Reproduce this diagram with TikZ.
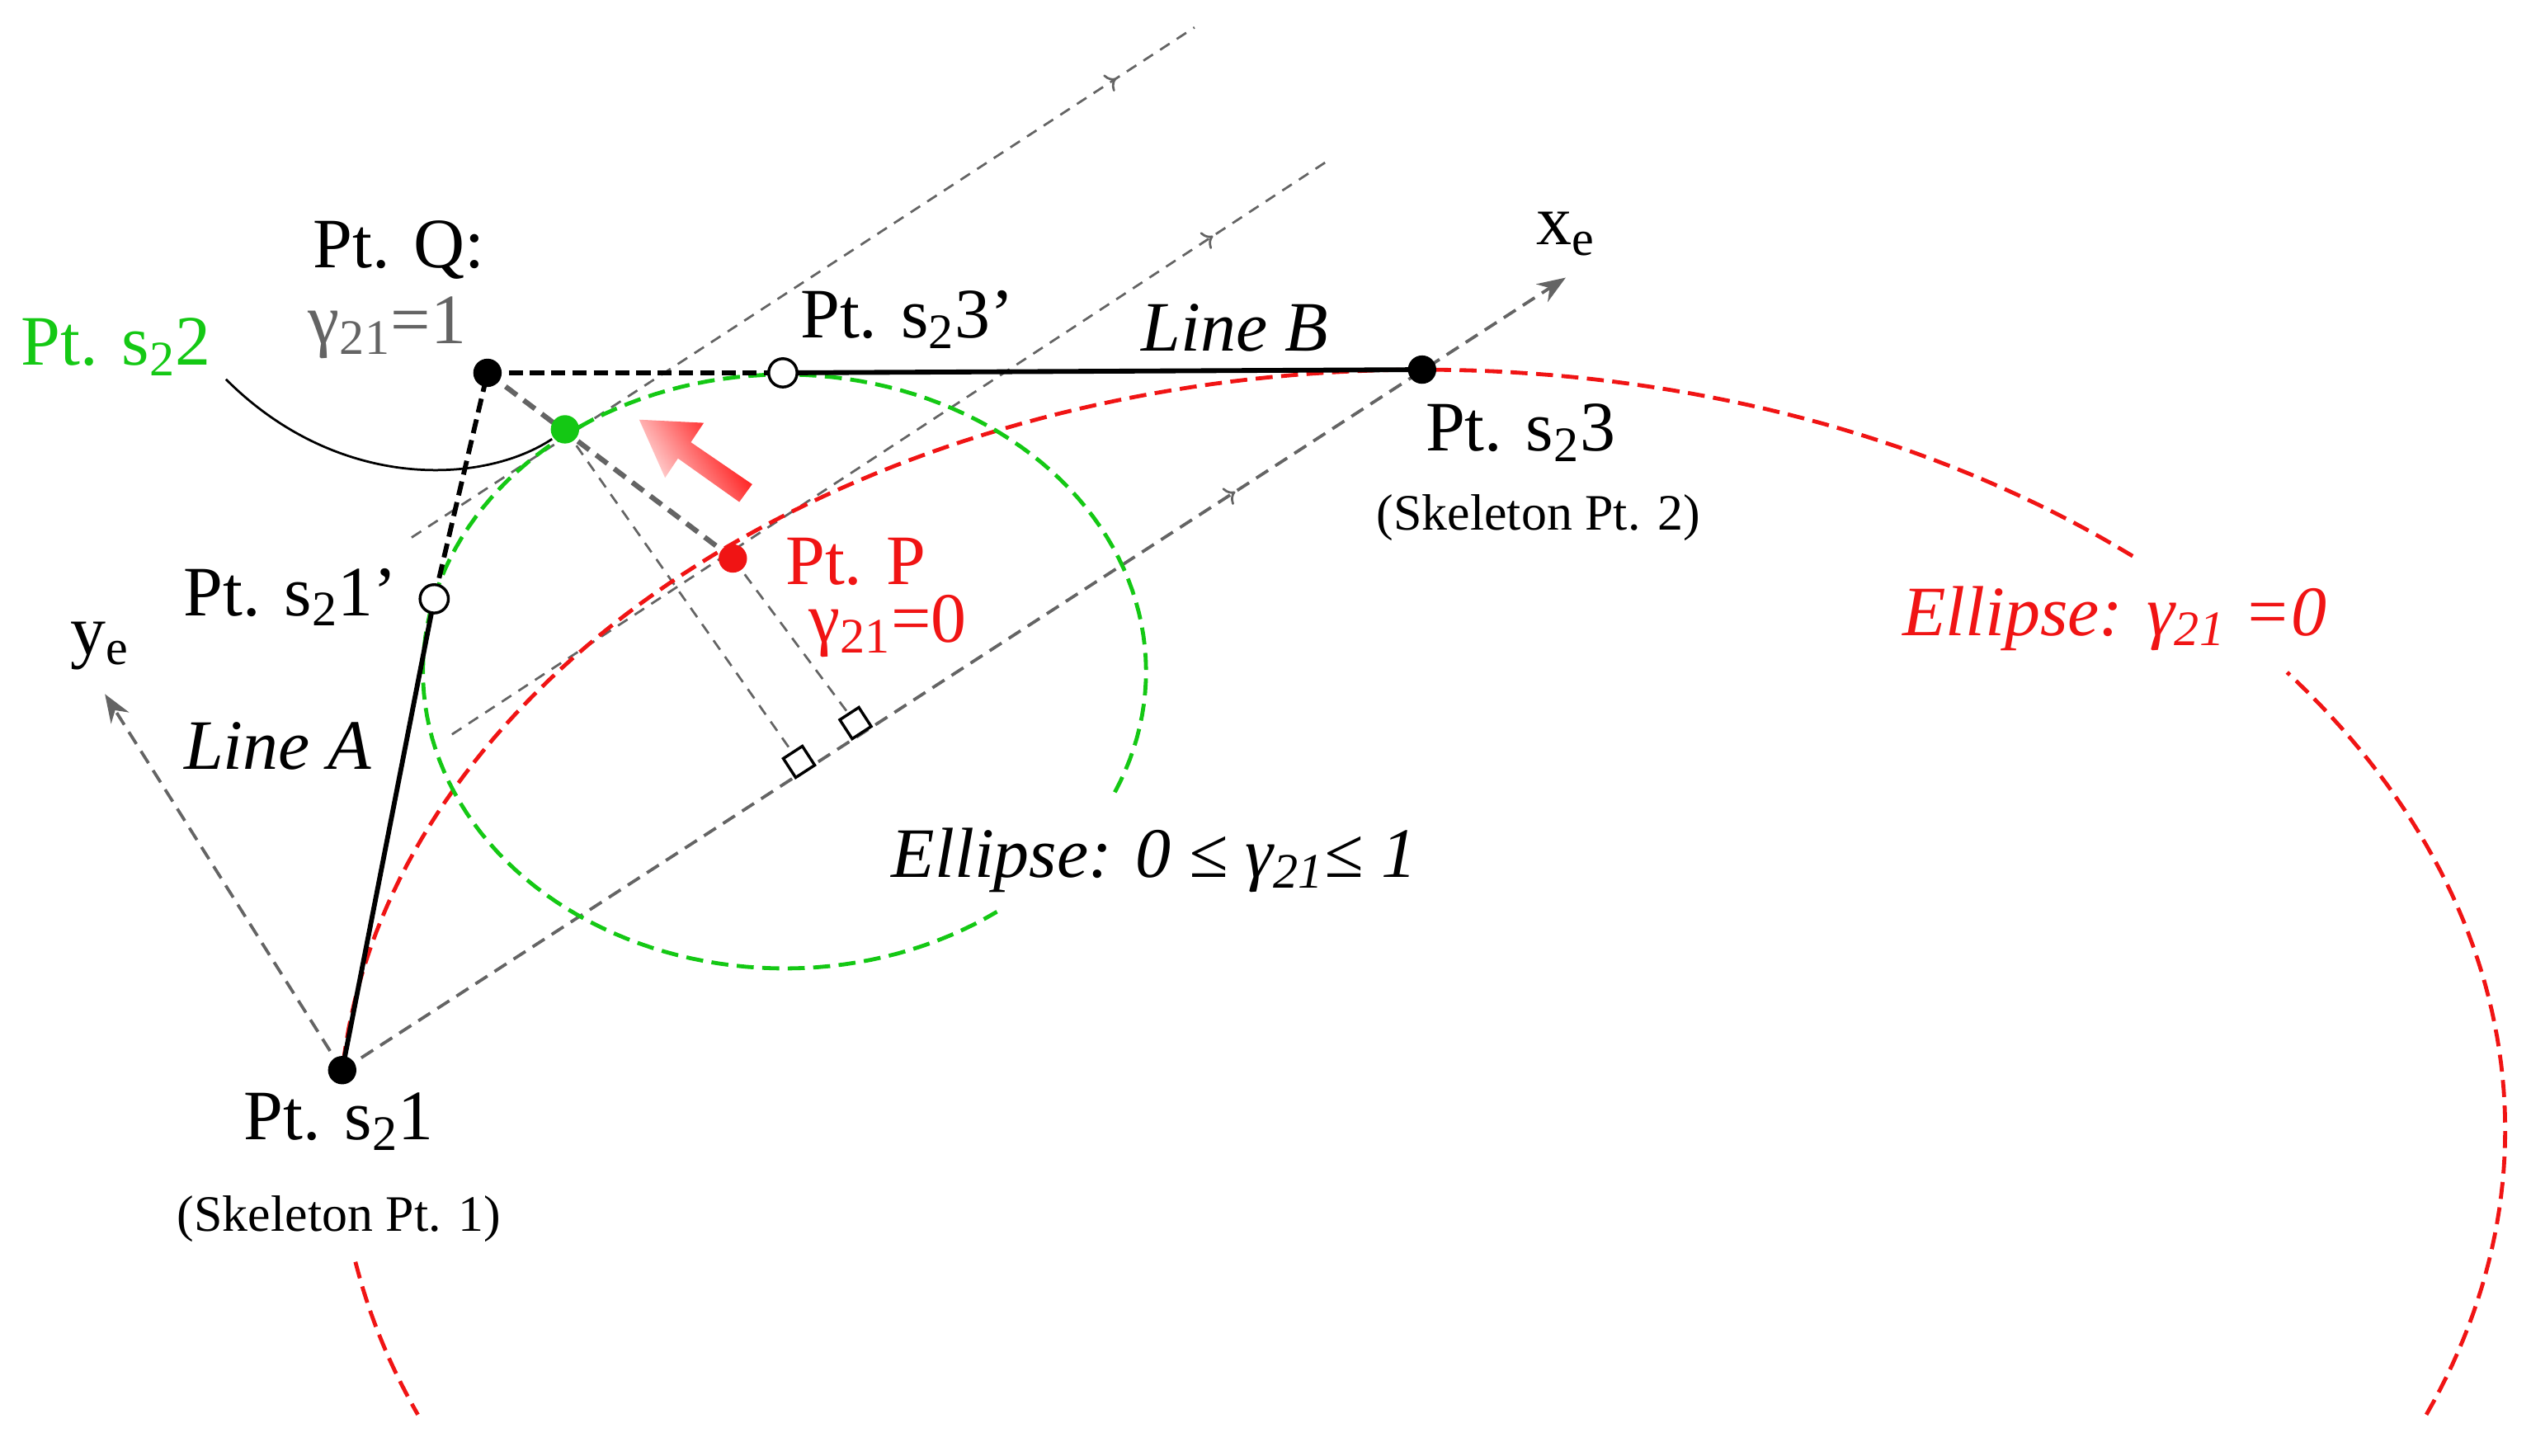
\documentclass[tikz,border=0pt]{standalone}
\usepackage{fontspec}
\setmainfont{Liberation Serif}
\usetikzlibrary{decorations.markings,arrows.meta}
\definecolor{gr}{RGB}{100,100,100}
\definecolor{gn}{RGB}{20,200,20}
\definecolor{rd}{RGB}{240,20,20}
\tikzset{
 lbl/.style={font=\fontsize{25}{28}\selectfont, inner sep=0pt},
 ilbl/.style={font=\fontsize{25}{28}\selectfont\itshape, inner sep=0pt},
 sml/.style={font=\fontsize{18}{21}\selectfont, inner sep=0pt},
 axis/.style={gr, dash pattern=on 5pt off 3pt, line width=1.1pt},
 thin/.style={gr, dash pattern=on 4pt off 3pt, line width=0.8pt},
 curv/.style={dash pattern=on 6pt off 3pt, line width=1.4pt},
 midarr/.style={postaction={decorate}, decoration={markings, mark=at position #1 with {\arrow[gr,solid,line width=0.8pt]{>}}}},
 dot/.style={circle, fill=black, minimum size=10pt, inner sep=0pt},
 odot/.style={circle, draw=black, fill=white, line width=1pt, minimum size=10pt, inner sep=0pt},
 sq/.style={draw=black, fill=white, line width=1pt, minimum size=8pt, inner sep=0pt, rotate=33},
 solidl/.style={black, line width=1.7pt},
 dashl/.style={black, dash pattern=on 5pt off 2.5pt, line width=1.7pt},
}
\begin{document}
\begin{tikzpicture}[x=0.02cm, y=-0.02cm]
\useasboundingbox (0,0) rectangle (1568,902);
\coordinate (s21) at (212,663);
\coordinate (Q) at (302,231);
\coordinate (s23) at (881,229);
\coordinate (P) at (454,346);
\coordinate (s22) at (350,266);
\coordinate (s21p) at (269,371);
\coordinate (s23p) at (485,231);
\coordinate (xe) at (970,172);
\coordinate (ye) at (65,430);
\coordinate (f1) at (495,472);
\coordinate (f2) at (530,448);
% parallel lines
\draw[thin, midarr=0.9] (255,333) -- (740,17);
\draw[thin, midarr=0.87] (280,455) -- (822,100);
% axes
\draw[axis, -{Stealth[length=10pt]}, midarr=0.73] (s21) -- (xe);
\draw[axis, -{Stealth[length=10pt]}] (s21) -- (ye);
% perpendiculars
\draw[thin] (s22) -- (f1);
\draw[thin] (P) -- (f2);
\draw[gr, dash pattern=on 5pt off 3pt, line width=1.8pt] (Q) -- (P);
\node[sq] at (f1) {};
\node[sq] at (f2) {};
% ellipses
\draw[rd, curv, domain=49:175.6, samples=120] plot ({881+671*cos(\x)},{700-471*sin(\x)});
\draw[rd, curv, domain=190:202, samples=20] plot ({881+671*cos(\x)},{700-471*sin(\x)});
\draw[rd, curv, domain=-22:37, samples=60] plot ({881+671*cos(\x)},{700-471*sin(\x)});
\draw[gn, curv, domain=-24:306, samples=150] plot ({486+224*cos(\x)},{416-184*sin(\x)});
% lines A and B
\draw[solidl] (s21) -- (s21p);
\draw[dashl] (s21p) -- (Q);
\draw[dashl] (Q) -- (s23p);
\draw[solidl] (s23p) -- (s23);
% red arrow
\shade[shading=axis, top color=red, bottom color=red!8, shading angle=-57]
 (466,300) -- (428,274) -- (436,262) -- (396,260) -- (412,296) -- (420,284) -- (458,311) -- cycle;
% curved pointer
\draw[black, line width=0.8pt] (140,235) .. controls (210,305) and (300,300) .. (342,272);
% points
\node[dot] (nQ) at (Q) {};
\node[dot] (ns23) at (s23) {};
\node[dot] (ns21) at (s21) {};
\node[dot, fill=rd] (nP) at (P) {};
\node[dot, fill=gn] (ns22) at (s22) {};
\node[odot] (ns21p) at (s21p) {};
\node[odot] (ns23p) at (s23p) {};
% labels
\node[lbl] (tQ) at (247,155) {Pt. Q:};
\node[lbl, gr] (tg1) at (240,203) {γ\textsubscript{21}=1};
\node[lbl, gn] (ts22) at (72,215) {Pt. s\textsubscript{2}2};
\node[lbl] (ts23p) at (562,198) {Pt. s\textsubscript{2}3’};
\node[ilbl] (tLB) at (765,203) {Line B};
\node[lbl] (txe) at (970,145) {x\textsubscript{e}};
\node[lbl] (ts23) at (942,268) {Pt. s\textsubscript{2}3};
\node[sml] (tsk2) at (953,321) {(Skeleton Pt. 2)};
\node[lbl, rd] (tP) at (530,348) {Pt. P};
\node[lbl, rd] (tg0) at (550,388) {γ\textsubscript{21}=0};
\node[lbl] (ts21p) at (180,370) {Pt. s\textsubscript{2}1’};
\node[lbl] (tye) at (62,400) {y\textsubscript{e}};
\node[ilbl] (tLA) at (172,462) {Line A};
\node[ilbl] (tEg) at (715,533) {Ellipse: 0 ≤ γ\textsubscript{21}≤ 1};
\node[ilbl, rd] (tEr) at (1310,383) {Ellipse: γ\textsubscript{21} =0};
\node[lbl] (ts21) at (210,695) {Pt. s\textsubscript{2}1};
\node[sml] (tsk1) at (210,755) {(Skeleton Pt. 1)};
\end{tikzpicture}
\end{document}
